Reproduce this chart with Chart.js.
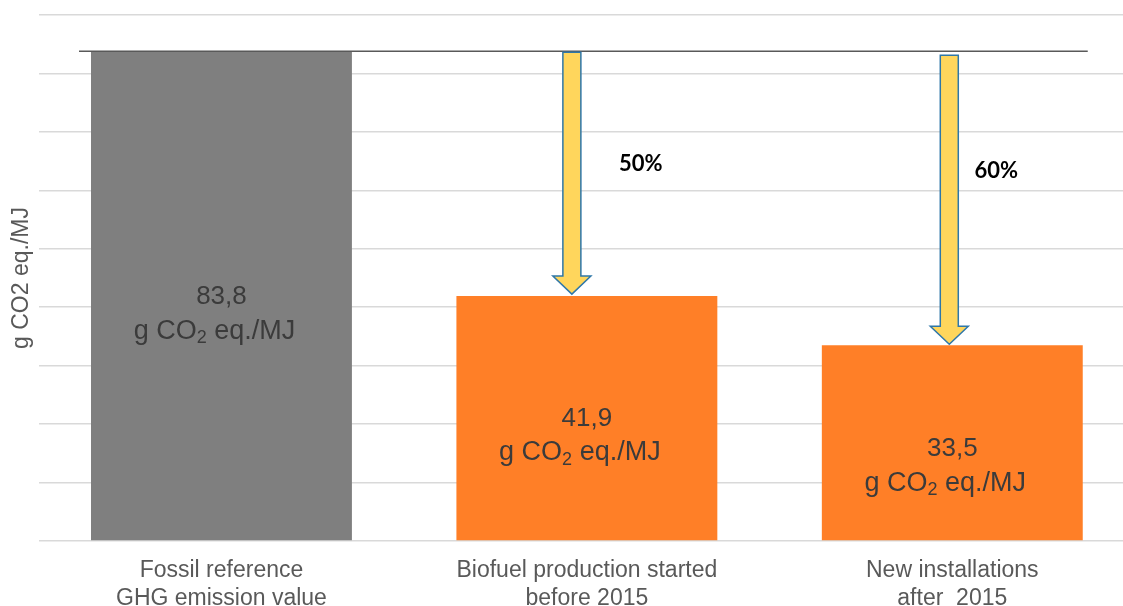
<!DOCTYPE html>
<html>
<head>
<meta charset="utf-8">
<script src="https://cdn.jsdelivr.net/npm/chart.js@4"></script>
<style>
  html, body { margin: 0; padding: 0; background: #fff; overflow: hidden; }
  canvas { display: block; }
</style>
</head>
<body>
<canvas id="ghg" width="1136" height="629"></canvas>
<script>
const categories = [
  ["Fossil reference", "GHG emission value"],
  ["Biofuel production started", "before 2015"],
  ["New installations", "after  2015"],
];
const emissions = [83.8, 41.9, 33.5];
const barColors = ["#7F7F7F", "#FF7F27", "#FF7F27"];
const referenceValue = 83.8;
const yMax = 90;
const yStep = 10;
const unitLabel = ["g CO", "2", " eq./MJ"];

// vertical nudge of the value label block inside each bar, in px
const labelShift = [18, 17, 23];
// arrows: horizontal offset from bar centre, gap below the reference line, gap above bar top
const arrowStyle = [null, { dx: -15, topGap: 1, tipGap: 2, labelDx: 69, labelDy: 113 },
                          { dx: -3, topGap: 4, tipGap: 1, labelDx: 47, labelDy: 120 }];

function formatValue(v) {
  return v.toFixed(1).replace(".", ",");
}

function drawArrow(ctx, cx, top, tip) {
  const shaft = 9, head = 19, headLen = 18;
  ctx.beginPath();
  ctx.moveTo(cx - shaft, top);
  ctx.lineTo(cx + shaft, top);
  ctx.lineTo(cx + shaft, tip - headLen);
  ctx.lineTo(cx + head, tip - headLen);
  ctx.lineTo(cx, tip);
  ctx.lineTo(cx - head, tip - headLen);
  ctx.lineTo(cx - shaft, tip - headLen);
  ctx.closePath();
  ctx.fillStyle = "#FFD65C";
  ctx.fill();
  ctx.strokeStyle = "#2F77A8";
  ctx.lineWidth = 1.5;
  ctx.stroke();
}

// "g CO2 eq./MJ" with a lowered subscript, slightly left of centre like the source deck
function drawUnit(ctx, cx, cy) {
  const main = "27px 'Liberation Sans', Arial, sans-serif";
  const sub = "18px 'Liberation Sans', Arial, sans-serif";
  ctx.font = main;
  const w1 = ctx.measureText(unitLabel[0]).width;
  const w3 = ctx.measureText(unitLabel[2]).width;
  ctx.font = sub;
  const w2 = ctx.measureText(unitLabel[1]).width;
  let x = cx - 7 - (w1 + w2 + w3) / 2;
  ctx.textAlign = "left";
  ctx.font = main;
  ctx.fillText(unitLabel[0], x, cy);
  x += w1;
  ctx.font = sub;
  ctx.fillText(unitLabel[1], x, cy + 7);
  x += w2;
  ctx.font = main;
  ctx.fillText(unitLabel[2], x, cy);
}

const overlay = {
  id: "overlay",
  afterDatasetsDraw(chart) {
    const { ctx, scales: { y } } = chart;
    const bars = chart.getDatasetMeta(0).data;
    const refY = y.getPixelForValue(referenceValue);
    const base = y.getPixelForValue(0);

    ctx.save();

    // fossil reference line across all bars
    const first = bars[0], last = bars[bars.length - 1];
    ctx.beginPath();
    ctx.moveTo(first.x - first.width / 2 - 12, refY);
    ctx.lineTo(last.x + last.width / 2 + 5, refY);
    ctx.strokeStyle = "#595959";
    ctx.lineWidth = 1.5;
    ctx.stroke();

    // value labels inside bars
    ctx.fillStyle = "#3B3B3B";
    ctx.textBaseline = "middle";
    bars.forEach((bar, i) => {
      const cy = (bar.y + base) / 2 + labelShift[i];
      ctx.font = "26px 'Liberation Sans', Arial, sans-serif";
      ctx.textAlign = "center";
      ctx.fillText(formatValue(emissions[i]), bar.x, cy - 17);
      drawUnit(ctx, bar.x, cy + 17);
    });

    // reduction arrows with percentage
    bars.forEach((bar, i) => {
      const s = arrowStyle[i];
      if (!s) return;
      const cx = bar.x + s.dx;
      drawArrow(ctx, cx, refY + s.topGap, bar.y - s.tipGap);
      const pct = Math.round((1 - emissions[i] / referenceValue) * 100) + "%";
      ctx.font = "bold 22px Lato, 'Open Sans', sans-serif";
      ctx.fillStyle = "#000";
      ctx.textAlign = "center";
      ctx.fillText(pct, cx + s.labelDx, refY + s.labelDy);
    });

    ctx.restore();
  },
};

new Chart(document.getElementById("ghg"), {
  type: "bar",
  data: {
    labels: categories,
    datasets: [
      {
        data: emissions,
        backgroundColor: barColors,
        borderWidth: 0,
        categoryPercentage: 1,
        barPercentage: 0.714,
      },
    ],
  },
  options: {
    responsive: false,
    animation: false,
    layout: { padding: { top: 15, right: 1, left: 0, bottom: 0 } },
    plugins: {
      legend: { display: false },
      tooltip: { enabled: false },
    },
    scales: {
      x: {
        grid: { display: false, drawTicks: false },
        border: { display: false },
        ticks: {
          color: "#595959",
          font: { family: "'Liberation Sans', Arial, sans-serif", size: 23, lineHeight: 28 / 23 },
          padding: 16,
          maxRotation: 0,
          autoSkip: false,
        },
      },
      y: {
        min: 0,
        max: yMax,
        ticks: { stepSize: yStep, display: false },
        grid: { color: "#D9D9D9", lineWidth: 1.5, drawTicks: false },
        border: { display: false },
        title: {
          display: true,
          text: "g CO2 eq./MJ",
          color: "#595959",
          font: { family: "'Liberation Sans', Arial, sans-serif", size: 23, lineHeight: 1.2 },
          padding: { top: 7.7, bottom: 3.45 },
        },
      },
    },
  },
  plugins: [overlay],
});
</script>
</body>
</html>
